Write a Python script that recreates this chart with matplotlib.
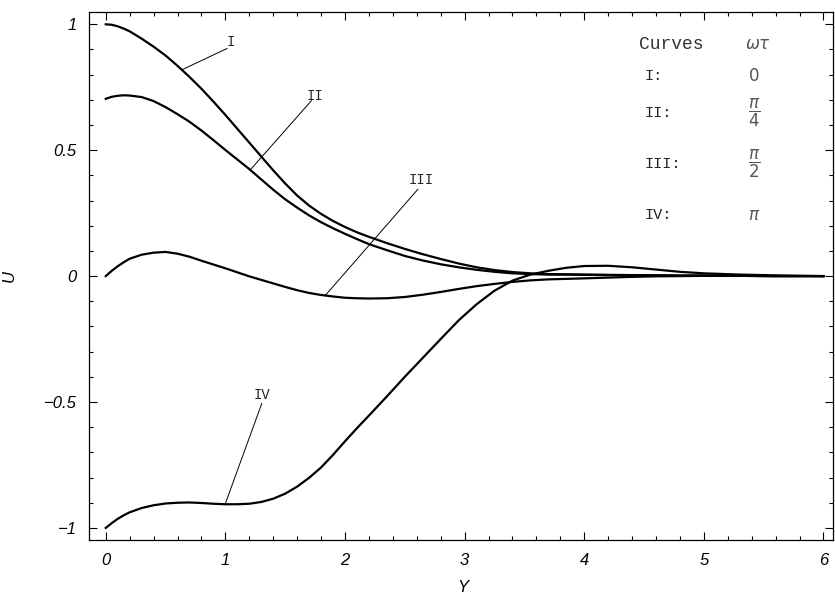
import numpy as np
import matplotlib
matplotlib.use("Agg")
import matplotlib.pyplot as plt
from matplotlib.ticker import MultipleLocator, FixedLocator

# values
Y = [0.0, 0.05, 0.1, 0.15, 0.2, 0.3, 0.4, 0.5, 0.6, 0.7, 0.8, 0.9, 1.0, 1.1, 1.2,
     1.3, 1.4, 1.5, 1.6, 1.7, 1.8, 1.9, 2.0, 2.1, 2.2, 2.35, 2.5, 2.65, 2.8, 2.95,
     3.1, 3.25, 3.4, 3.55, 3.7, 3.85, 4.0, 4.2, 4.4, 4.6, 4.8, 5.0, 5.3, 5.6, 6.0]

U_I = [1.0, 0.998, 0.992, 0.983, 0.972, 0.943, 0.911, 0.876, 0.835, 0.791, 0.744,
       0.693, 0.640, 0.585, 0.530, 0.475, 0.420, 0.368, 0.320, 0.280, 0.247, 0.219,
       0.195, 0.174, 0.156, 0.131, 0.108, 0.087, 0.068, 0.050, 0.035, 0.024, 0.016,
       0.011, 0.008, 0.007, 0.006, 0.005, 0.004, 0.003, 0.002, 0.002, 0.001, 0.0, 0.0]
U_II = [0.704, 0.712, 0.716, 0.718, 0.717, 0.711, 0.695, 0.671, 0.643, 0.613, 0.578,
        0.540, 0.501, 0.463, 0.425, 0.384, 0.343, 0.305, 0.272, 0.241, 0.214, 0.190,
        0.168, 0.147, 0.127, 0.103, 0.080, 0.062, 0.047, 0.035, 0.025, 0.017, 0.011,
        0.008, 0.006, 0.006, 0.005, 0.004, 0.003, 0.003, 0.002, 0.002, 0.001, 0.0, 0.0]
U_III = [0.0, 0.021, 0.039, 0.055, 0.069, 0.085, 0.093, 0.096, 0.089, 0.077, 0.061,
         0.046, 0.031, 0.015, -0.001, -0.015, -0.029, -0.043, -0.056, -0.067, -0.075,
         -0.081, -0.086, -0.088, -0.089, -0.088, -0.083, -0.074, -0.063, -0.051, -0.040,
         -0.031, -0.023, -0.017, -0.013, -0.011, -0.009, -0.006, -0.003, -0.001, 0.0,
         0.001, 0.001, 0.0, 0.0]
U_IV = [-1.0, -0.981, -0.964, -0.950, -0.938, -0.921, -0.910, -0.903, -0.900, -0.899,
        -0.901, -0.904, -0.906, -0.906, -0.904, -0.897, -0.884, -0.864, -0.836, -0.801,
        -0.760, -0.710, -0.656, -0.604, -0.554, -0.478, -0.400, -0.325, -0.250, -0.176,
        -0.112, -0.058, -0.018, 0.006, 0.021, 0.033, 0.040, 0.041, 0.035, 0.026, 0.017,
        0.011, 0.006, 0.003, 0.0]

curve_names = ["I", "II", "III", "IV"]
omega_tau = ["0", r"$\dfrac{\pi}{4}$", r"$\dfrac{\pi}{2}$", r"$\pi$"]

plt.rcParams['mathtext.fontset'] = 'dejavusans'

fig = plt.figure(figsize=(8.35, 5.94), dpi=100)
ax = fig.add_axes([0.1066, 0.0909, 0.891, 0.889])

for u in [U_I, U_II, U_III, U_IV]:
    ax.plot(Y, u, color='black', lw=1.6, solid_joinstyle='round')

ax.set_xlim(-0.14, 6.08)
ax.set_ylim(-1.048, 1.049)

# ticks like a Mathematica frame
ax.xaxis.set_major_locator(MultipleLocator(1))
ax.xaxis.set_minor_locator(MultipleLocator(0.2))
ax.yaxis.set_major_locator(FixedLocator([-1, -0.5, 0, 0.5, 1]))
ax.yaxis.set_minor_locator(MultipleLocator(0.1))
ax.set_yticklabels(["\u22121", "\u22120.5", "0", "0.5", "1"])
ax.tick_params(which='both', direction='in', top=True, right=True, width=0.8)
ax.tick_params(which='major', length=6, pad=9)
ax.tick_params(which='minor', length=3)
for lab in ax.get_xticklabels() + ax.get_yticklabels():
    lab.set_family('Liberation Sans')
    lab.set_style('italic')
    lab.set_fontsize(12)
for sp in ax.spines.values():
    sp.set_linewidth(0.9)

ax.set_xlabel("Y", family='Liberation Sans', style='italic', fontsize=12)
ax.set_ylabel("U", family='Liberation Sans', style='italic', fontsize=12)
ax.xaxis.set_label_coords(0.503, -0.075)
ax.yaxis.set_label_coords(-0.097, 0.5)

# leader lines to curve labels
leaders = [(U_I, 0.636, (1.015, 0.904), (1.046, 0.93)),
           (U_II, 1.208, (1.72, 0.697), (1.751, 0.717)),
           (U_III, 1.835, (2.61, 0.345), (2.64, 0.381)),
           (U_IV, 0.998, (1.305, -0.505), (1.31, -0.474))]
for name, (u, xc, end, lab) in zip(curve_names, leaders):
    ax.annotate("", xy=(xc, np.interp(xc, Y, u)), xytext=end,
                arrowprops=dict(arrowstyle='-', lw=0.7, color='black',
                                shrinkA=0, shrinkB=0))
    ax.text(lab[0], lab[1], name, family='Liberation Mono', fontsize=10,
            ha='center', va='center', color='#222222')

# legend table
ax.text(4.46, 0.92, "Curves", family='Liberation Mono', fontsize=13,
        ha='left', va='center', color='#333333')
ax.text(5.45, 0.92, r"$\omega\tau$", fontsize=12, ha='center', va='center', color='#555555')
rows_y = [0.793, 0.649, 0.446, 0.243]
for name, val, yy in zip(curve_names, omega_tau, rows_y):
    ax.text(4.50, yy, name + ":", family='Liberation Mono', fontsize=11,
            ha='left', va='center', color='#222222')
    ax.text(5.42, yy, val, fontsize=12, ha='center', va='center', color='#555555')

fig.savefig("out.png", dpi=100)
